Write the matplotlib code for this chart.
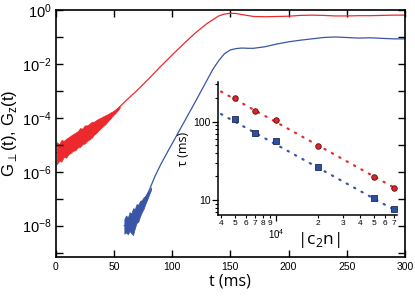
import numpy as np
import matplotlib
matplotlib.use("Agg")
import matplotlib.pyplot as plt
from matplotlib.ticker import FixedLocator, FixedFormatter, NullFormatter

# ---------------- data ----------------
# main panel: log10 of G(t)
t_red = [1, 10, 20, 30, 40, 50, 60, 70, 80, 90, 100, 110, 120, 130, 140, 145,
         150, 155, 160, 170, 180, 190, 200, 210, 220, 230, 240, 250, 260, 270,
         280, 290, 300]
lg_red = [-5.3, -5.02, -4.75, -4.45, -4.15, -3.8, -3.38, -2.98, -2.55, -2.1,
          -1.67, -1.25, -0.85, -0.5, -0.22, -0.15, -0.12, -0.13, -0.17, -0.24,
          -0.25, -0.24, -0.23, -0.2, -0.19, -0.2, -0.22, -0.22, -0.21, -0.21,
          -0.2, -0.19, -0.19]
# noisy envelope of the red curve at early times
t_red_band = [1, 3, 5, 7, 9, 11, 13, 15, 17, 19, 21, 23, 25, 27, 29, 31, 33,
              35, 37, 39, 41, 43, 45, 47, 49, 51, 53, 55]
lg_red_hi = [-4.9, -4.98, -4.82, -4.85, -4.78, -4.72, -4.66, -4.6, -4.55, -4.5,
             -4.38, -4.4, -4.28, -4.28, -4.22, -4.15, -4.14, -4.08, -4.03,
             -3.99, -3.94, -3.9, -3.86, -3.8, -3.76, -3.7, -3.64, -3.56]
lg_red_lo = [-5.72, -5.6, -5.62, -5.45, -5.48, -5.35, -5.3, -5.22, -5.2, -5.1,
             -5.08, -4.98, -4.95, -4.86, -4.8, -4.74, -4.62, -4.56, -4.46,
             -4.38, -4.3, -4.22, -4.12, -4.03, -3.92, -3.84, -3.74, -3.63]

t_blue = [59, 62, 66, 70, 75, 80, 85, 90, 95, 100, 105, 110, 115, 120, 125,
          130, 135, 140, 145, 150, 155, 160, 165, 170, 180, 190, 200, 210, 220,
          230, 240, 250, 260, 270, 280, 290, 300]
lg_blue = [-8.0, -7.95, -7.8, -7.45, -7.15, -6.72, -6.2, -5.75, -5.35, -4.96,
           -4.57, -4.18, -3.79, -3.4, -3.0, -2.6, -2.2, -1.88, -1.62, -1.48,
           -1.43, -1.41, -1.42, -1.42, -1.36, -1.26, -1.18, -1.12, -1.07, -1.02,
           -1.0, -1.02, -1.04, -1.03, -1.05, -1.07, -1.07]
t_blue_band = [59, 60.5, 62, 63.5, 65, 66.5, 68, 69.5, 71, 72.5, 74, 75.5, 77,
               78.5, 80, 82]
lg_blue_hi = [-7.75, -7.62, -7.7, -7.5, -7.55, -7.35, -7.38, -7.2, -7.22,
              -7.08, -7.05, -6.95, -6.9, -6.8, -6.72, -6.58]
lg_blue_lo = [-8.3, -8.25, -8.32, -8.2, -8.28, -8.35, -8.1, -7.9, -7.85,
              -7.65, -7.5, -7.38, -7.2, -7.05, -6.88, -6.66]

# inset: tau vs |c2 n|
c2n = [5e3, 7e3, 1e4, 2e4, 5e4, 7e4]
tau_red = [202, 137, 104, 48.4, 19.7, 14.4]
tau_blue = [107, 71, 57, 26, 10.7, 7.7]
fit_x = [4e3, 7.2e4]
fit_red = [242, 14]
fit_blue = [125, 7.3]

main_xticks = [0, 50, 100, 150, 200, 250, 300]
main_ydecades = [0, -1, -2, -3, -4, -5, -6, -7, -8, -9]
inset_minor_x = [4e3, 5e3, 6e3, 7e3, 8e3, 9e3, 2e4, 3e4, 4e4, 5e4, 6e4, 7e4]
inset_minor_lbl = ["4", "5", "6", "7", "8", "9", "2", "3", "4", "5", "6", "7"]

RED = "#ec2a2e"
BLUE = "#3a55a5"

plt.rcParams["font.family"] = ["Liberation Sans", "DejaVu Sans"]

fig = plt.figure(figsize=(4.15, 2.99), dpi=100)
ax = fig.add_axes([0.134, 0.1415, 0.842, 0.825])

p = lambda a: 10 ** np.asarray(a, dtype=float)
ax.fill_between(t_red_band, p(lg_red_lo), p(lg_red_hi), color=RED, lw=0.5,
                edgecolor=RED)
ax.plot(t_red, p(lg_red), color=RED, lw=0.9)
ax.fill_between(t_blue_band, p(lg_blue_lo), p(lg_blue_hi), color=BLUE, lw=0.5,
                edgecolor=BLUE)
ax.plot(t_blue, p(lg_blue), color=BLUE, lw=0.9)

ax.set_yscale("log")
ax.set_xlim(0, 300)
ax.set_ylim(10 ** -9.15, 1)
ax.set_xticks(main_xticks)
ax.yaxis.set_major_locator(FixedLocator([10.0 ** d for d in main_ydecades]))
ax.yaxis.set_major_formatter(FixedFormatter(
    [r"$\mathregular{10^{%d}}$" % d if d % 2 == 0 else "" for d in main_ydecades]))
ax.yaxis.set_minor_locator(FixedLocator([]))
ax.tick_params(axis="both", which="major", direction="in", length=5, width=1,
               top=True, right=True)
ax.tick_params(axis="x", labelsize=7.5, pad=4)
ax.tick_params(axis="y", labelsize=10.5, pad=3)
for s in ax.spines.values():
    s.set_linewidth(1.2)

ax.set_xlabel("t (ms)", family=["Open Sans", "DejaVu Sans"], fontsize=11.5,
              labelpad=1)
ax.set_ylabel(r"G$_\perp$(t), G$_\mathregular{z}$(t)", fontsize=12, labelpad=2)

# ---------------- inset ----------------
ins = fig.add_axes([0.5253, 0.281, 0.4313, 0.4448])
ins.patch.set_alpha(0)
ins.set_xscale("log")
ins.set_yscale("log")
ins.plot(fit_x, fit_red, color=RED, lw=1.6, ls=(0, (0.6, 3.2)),
         dash_capstyle="round")
ins.plot(fit_x, fit_blue, color=BLUE, lw=1.6, ls=(0, (0.6, 3.2)),
         dash_capstyle="round")
ins.plot(c2n, tau_red, "o", ms=4, mfc="#d8262a", mec="#5a1010", mew=0.6)
ins.plot(c2n, tau_blue, "s", ms=3.8, mfc="#2f4f9f", mec="#1a2a55", mew=0.6)
ins.set_xlim(3.8e3, 7.35e4)
ins.set_ylim(6.43, 321)
for k in ("top", "right"):
    ins.spines[k].set_visible(False)
for k in ("left", "bottom"):
    ins.spines[k].set_linewidth(1.1)

ins.xaxis.set_major_locator(FixedLocator([1e4]))
ins.xaxis.set_major_formatter(FixedFormatter([r"$\mathregular{10^{4}}$"]))
ins.xaxis.set_minor_locator(FixedLocator(inset_minor_x))
ins.xaxis.set_minor_formatter(FixedFormatter(inset_minor_lbl))
ins.yaxis.set_major_locator(FixedLocator([10, 100]))
ins.yaxis.set_major_formatter(FixedFormatter(["10", "100"]))
ins.yaxis.set_minor_locator(FixedLocator([7, 8, 9, 20, 30, 40, 50, 60, 70, 80,
                                          90, 200, 300]))
ins.yaxis.set_minor_formatter(NullFormatter())
ins.tick_params(which="major", direction="out", length=4, width=0.9)
ins.tick_params(which="minor", direction="out", length=2.5, width=0.8)
ins.tick_params(axis="x", which="minor", labelsize=6, pad=1)
ins.tick_params(axis="x", which="major", labelsize=7, pad=5)
ins.tick_params(axis="y", which="major", labelsize=7.5, pad=1.5)

ins.set_xlabel(r"|c$_\mathregular{2}$n|", family=["Open Sans", "DejaVu Sans"],
               fontsize=12.5, labelpad=-9)
ins.xaxis.set_label_coords(0.56, -0.11)
ins.set_ylabel(r"τ (ms)", family=["Open Sans", "DejaVu Sans"], fontsize=9,
               labelpad=2)

fig.savefig("out.png", dpi=100)
